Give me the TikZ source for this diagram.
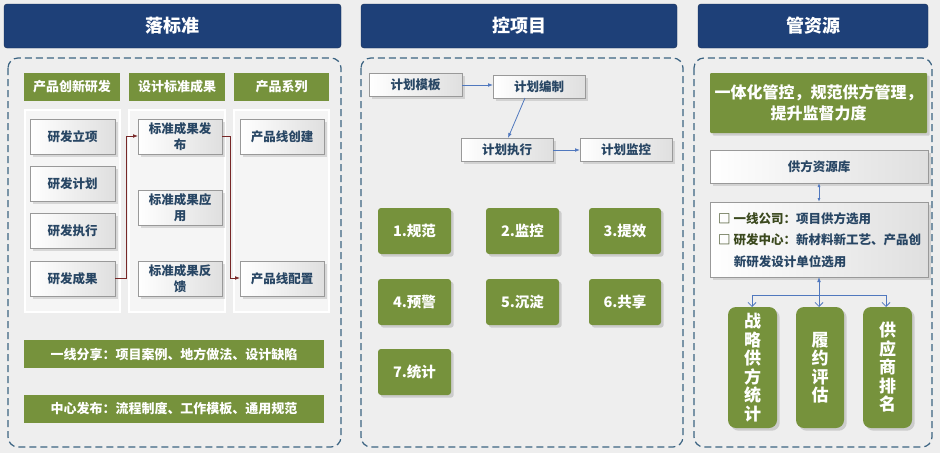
\documentclass[tikz,border=0pt]{standalone}
\usepackage{fontspec}
\setmainfont{Noto Sans CJK SC}
\usetikzlibrary{shadows,arrows.meta}
\definecolor{hdr}{RGB}{30,64,120}
\definecolor{grn}{RGB}{118,146,60}
\definecolor{txt}{RGB}{40,70,100}
\definecolor{dash}{RGB}{60,100,130}
\definecolor{arr}{RGB}{120,40,40}
\definecolor{bar}{RGB}{80,120,190}
\newcommand{\fs}[1]{\fontsize{#1}{#1}\selectfont}
\begin{document}
\begin{tikzpicture}[x=1pt,y=-1pt,font=\bfseries,
 hd/.style={draw=hdr!70!black,fill=hdr,rounded corners=3pt,text=white,font=\bfseries\fs{18}},
 pan/.style={draw=dash,dashed,dash pattern=on 7pt off 4pt,line width=1.2pt,rounded corners=10pt},
 gh/.style={fill=grn,text=white,font=\bfseries\fs{13}},
 gb/.style={draw=gray!80,left color=white,right color=gray!25,text=txt,font=\bfseries\fontsize{12.5}{16}\selectfont,drop shadow={opacity=0.25},align=center},
 gs/.style={fill=grn,rounded corners=3pt,text=white,font=\bfseries\fs{14.5},drop shadow={opacity=0.3}},
 vt/.style={align=center,font=\bfseries\fontsize{17}{18.5}\selectfont,text width=22pt},
 ra/.style={draw=arr,thick,-{Latex[length=5pt]}},
 ba/.style={draw=bar,thick,-{Straight Barb[length=4pt]}}]
\fill[gray!13] (0,0) rectangle (940,453);
\useasboundingbox (0,0) rectangle (940,453);
% headers
\path[hd] (4,4) rectangle node (h1) {落标准} (341,48);
\path[hd] (361,4) rectangle node (h2) {控项目} (677,48);
\path[hd] (698,4) rectangle node (h3) {管资源} (928,48);
\draw[pan] (8,58) rectangle (341,447);
\draw[pan] (361,58) rectangle (683,447);
\draw[pan] (694,58) rectangle (932,447);
% left
\path[gh] (24,73) rectangle node (g1) {产品创新研发} (120,101);
\path[gh] (129,73) rectangle node (g2) {设计标准成果} (225,101);
\path[gh] (234,73) rectangle node (g3) {产品系列} (329,101);
\foreach \a/\b in {25/120,129/225,234/329}
 \draw[white,line width=1.5pt,fill=gray!8] (\a,110) rectangle (\b,312);
\path[gb] (30,119) rectangle node (l1) {研发立项} (115,154);
\path[gb] (30,166) rectangle node (l2) {研发计划} (115,201);
\path[gb] (30,213) rectangle node (l3) {研发执行} (115,248);
\path[gb] (30,261) rectangle node (l4) {研发成果} (115,296);
\path[gb] (138,119) rectangle node[text width=80pt,inner sep=0pt] (m1) {标准成果发\\布} (222,154);
\path[gb] (138,190) rectangle node[text width=80pt,inner sep=0pt] (m2) {标准成果应\\用} (222,225);
\path[gb] (138,261) rectangle node[text width=80pt,inner sep=0pt] (m3) {标准成果反\\馈} (222,296);
\path[gb] (240,119) rectangle node (r1) {产品线创建} (324,154);
\path[gb] (240,261) rectangle node (r2) {产品线配置} (324,296);
\coordinate (m1w) at (138,136); \coordinate (l4e) at (115,278);
\coordinate (m1e) at (222,136); \coordinate (r2w) at (240,278);
\draw[ra] (l4e) -- (126,278) -- (126,136) -- (m1w);
\draw[ra] (m1e) -- (230,136) -- (230,278) -- (r2w);
\path[gh] (24,340) rectangle node (s1) {一线分享：项目案例、地方做法、设计缺陷} (324,368);
\path[gh] (24,395) rectangle node (s2) {中心发布：流程制度、工作模板、通用规范} (324,423);
% middle
\path[gb] (369,73) rectangle node (p1) {计划模板} (462,96);
\path[gb] (493,75) rectangle node (p2) {计划编制} (585,98);
\path[gb] (461,138) rectangle node (p3) {计划执行} (553,161);
\path[gb] (580,138) rectangle node (p4) {计划监控} (672,161);
\coordinate (p1e) at (462,85); \coordinate (p2w) at (493,85);
\coordinate (p2s) at (525,98); \coordinate (p3n) at (508,138);
\coordinate (p3e) at (553,150); \coordinate (p4w) at (580,150);
\draw[ba,-{Latex[length=5pt]}] (p1e) -- (p2w);
\draw[ba,-{Latex[length=5pt]}] (p2s) -- (p3n);
\draw[ba,-{Latex[length=5pt]}] (p3e) -- (p4w);
\path[gs] (378,208) rectangle node (k1) {1.规范} (451,254);
\path[gs] (486,208) rectangle node (k2) {2.监控} (559,254);
\path[gs] (589,208) rectangle node (k3) {3.提效} (661,254);
\path[gs] (378,279) rectangle node (k4) {4.预警} (451,325);
\path[gs] (486,279) rectangle node (k5) {5.沉淀} (559,325);
\path[gs] (589,279) rectangle node (k6) {6.共享} (661,325);
\path[gs] (378,349) rectangle node (k7) {7.统计} (451,395);
% right
\path[gs,rounded corners=1pt] (710,73) rectangle node[align=center,font=\bfseries\fs{16}] (t1) {一体化管控，规范供方管理，\\[4pt]提升监督力度} (927,133);
\path[gb] (710,150) rectangle node (t2) {供方资源库} (928,183);
\path[gb] (710,202) rectangle (928,277);
\node[anchor=north west,text=txt,font=\bfseries\fs{12.5},align=left,inner sep=0pt] (t3) at (718,212) {{\color{grn!50!black}□ 一线公司：}项目供方选用\\[9pt]{\color{grn!50!black}□ 研发中心：}新材料新工艺、产品创\\[9pt]\hspace{1.25em}新研发设计单位选用};
\coordinate (t3n) at (819,202); \coordinate (t2s) at (819,183);
\draw[draw=bar,thick,{Latex[length=4pt,open]}-{Latex[length=4pt,open]}] (t2s) -- (t3n);
\path[gs,rounded corners=8pt] (728,307) rectangle node[vt] (v1) {战\\略\\供\\方\\统\\计} (777,428);
\path[gs,rounded corners=8pt] (796,307) rectangle node[vt] (v2) {履\\约\\评\\估} (844,428);
\path[gs,rounded corners=8pt] (863,307) rectangle node[vt] (v3) {供\\应\\商\\排\\名} (912,428);
\coordinate (lb) at (819,277);
\coordinate (v1n) at (752,307); \coordinate (v2n) at (819,307); \coordinate (v3n) at (886,307);
\draw[draw=bar,thick,{Latex[length=5pt]}-] (lb) -- (819,295);
\draw[draw=bar,thick] (752,295) -- (886,295);
\draw[ba] (752,295) -- (v1n);
\draw[ba] (819,295) -- (v2n);
\draw[ba] (886,295) -- (v3n);
\end{tikzpicture}
\end{document}
